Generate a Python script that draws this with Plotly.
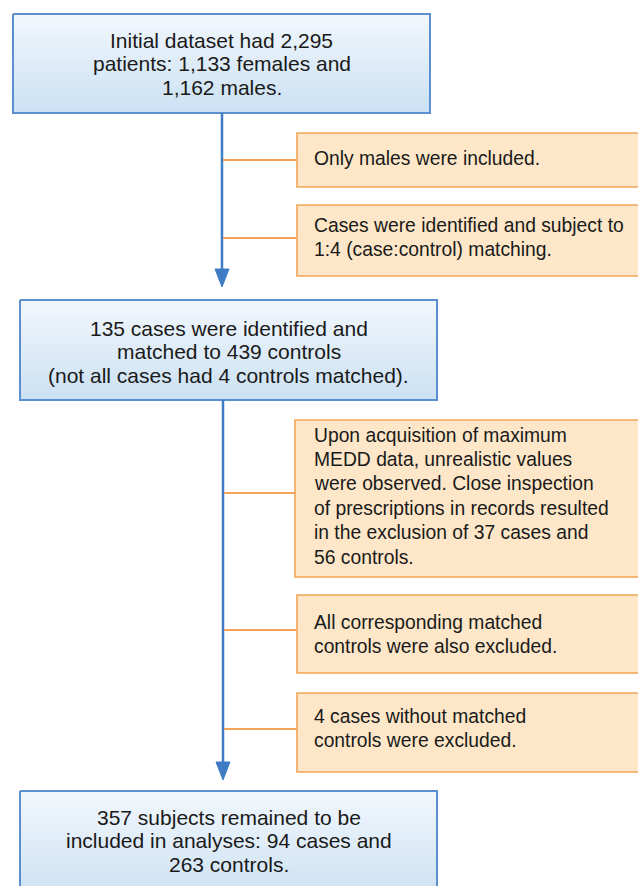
import plotly.graph_objects as go

# ---- content ----
main_texts = [
    ["Initial dataset had 2,295", "patients: 1,133 females and", "1,162 males."],
    ["135 cases were identified and", "matched to 439 controls", "(not all cases had 4 controls matched)."],
    ["357 subjects remained to be", "included in analyses: 94 cases and", "263 controls."],
]
excl_texts = [
    ["Only males were included."],
    ["Cases were identified and subject to", "1:4 (case:control) matching."],
    ["Upon acquisition of maximum", "MEDD data, unrealistic values", "were observed. Close inspection",
     "of prescriptions in records resulted", "in the exclusion of 37 cases and", "56 controls."],
    ["All corresponding matched", "controls were also excluded."],
    ["4 cases without matched", "controls were excluded."],
]

# ---- layout (pixel space) ----
W, H = 638, 886
main_boxes = [(13, 14, 430, 113), (20, 300, 437, 400), (20, 791, 437, 900)]
main_first_line = [40, 328, 817]
main_spacing = 23.6
excl_boxes = [(297, 133, 645, 187), (297, 205, 645, 276), (295, 420, 645, 577),
              (297, 595, 645, 673), (297, 693, 645, 772)]
excl_first_line = [158, 225, 435, 622, 716]
excl_spacing = 24.4
excl_text_x = 312
trunk_x = [222, 223]
trunk_from = [113, 400]
trunk_to = [287, 780]
excl_trunk = [0, 0, 1, 1, 1]
connector_y = [160, 238, 493, 630, 729]

BLUE_LINE = "#3f7cc4"
BLUE_BORDER = "#5b8fcf"
ORANGE_LINE = "#f2a556"
ORANGE_FILL = "#fde7c8"
TEXT = "#1a1a1a"
FONT = "Liberation Sans, Arial, Helvetica, sans-serif"

fig = go.Figure()

# main boxes with vertical gradient (light at top, bluer at bottom)
for (x0, y0, x1, y1) in main_boxes:
    fig.add_trace(go.Scatter(
        x=[x0, x1, x1, x0, x0], y=[y0, y0, y1, y1, y0],
        mode="lines", fill="toself",
        line=dict(color=BLUE_BORDER, width=2),
        fillgradient=dict(type="vertical",
                          colorscale=[[0, "#cbe1f3"], [1, "#f2f7fc"]]),
        hoverinfo="skip", showlegend=False))

shapes = []
# trunks and arrowheads
for i in range(2):
    x = trunk_x[i]
    shapes.append(dict(type="line", x0=x, x1=x, y0=trunk_from[i], y1=trunk_to[i] - 8,
                       line=dict(color=BLUE_LINE, width=2.5)))
    tip = trunk_to[i]
    shapes.append(dict(type="path",
                       path=f"M {x-7},{tip-18} L {x+7},{tip-18} L {x},{tip} Z",
                       fillcolor=BLUE_LINE, line=dict(color=BLUE_LINE, width=1)))

# exclusion boxes and connectors
for k, (x0, y0, x1, y1) in enumerate(excl_boxes):
    shapes.append(dict(type="rect", x0=x0, x1=x1, y0=y0, y1=y1,
                       fillcolor=ORANGE_FILL, line=dict(color=ORANGE_LINE, width=1.6),
                       layer="below"))
    tx = trunk_x[excl_trunk[k]]
    shapes.append(dict(type="line", x0=tx + 1, x1=x0, y0=connector_y[k], y1=connector_y[k],
                       line=dict(color=ORANGE_LINE, width=2)))

annotations = []
for b, lines in enumerate(main_texts):
    x0, _, x1, _ = main_boxes[b]
    cx = (x0 + x1) / 2
    for j, t in enumerate(lines):
        annotations.append(dict(x=cx, y=main_first_line[b] + j * main_spacing, text=t,
                                showarrow=False, xanchor="center", yanchor="middle",
                                font=dict(family=FONT, size=21, color=TEXT)))
for b, lines in enumerate(excl_texts):
    for j, t in enumerate(lines):
        annotations.append(dict(x=excl_text_x, y=excl_first_line[b] + j * excl_spacing, text=t,
                                showarrow=False, xanchor="left", yanchor="middle",
                                font=dict(family=FONT, size=19.3, color=TEXT)))

fig.update_layout(
    width=W, height=H, margin=dict(l=0, r=0, t=0, b=0),
    paper_bgcolor="white", plot_bgcolor="white",
    xaxis=dict(range=[0, W], visible=False, fixedrange=True),
    yaxis=dict(range=[H, 0], visible=False, fixedrange=True),
    shapes=shapes, annotations=annotations, showlegend=False,
)
fig.write_html("out.html", config={"displayModeBar": False},
               post_script="document.body.style.margin='0';document.body.style.overflow='hidden';")
